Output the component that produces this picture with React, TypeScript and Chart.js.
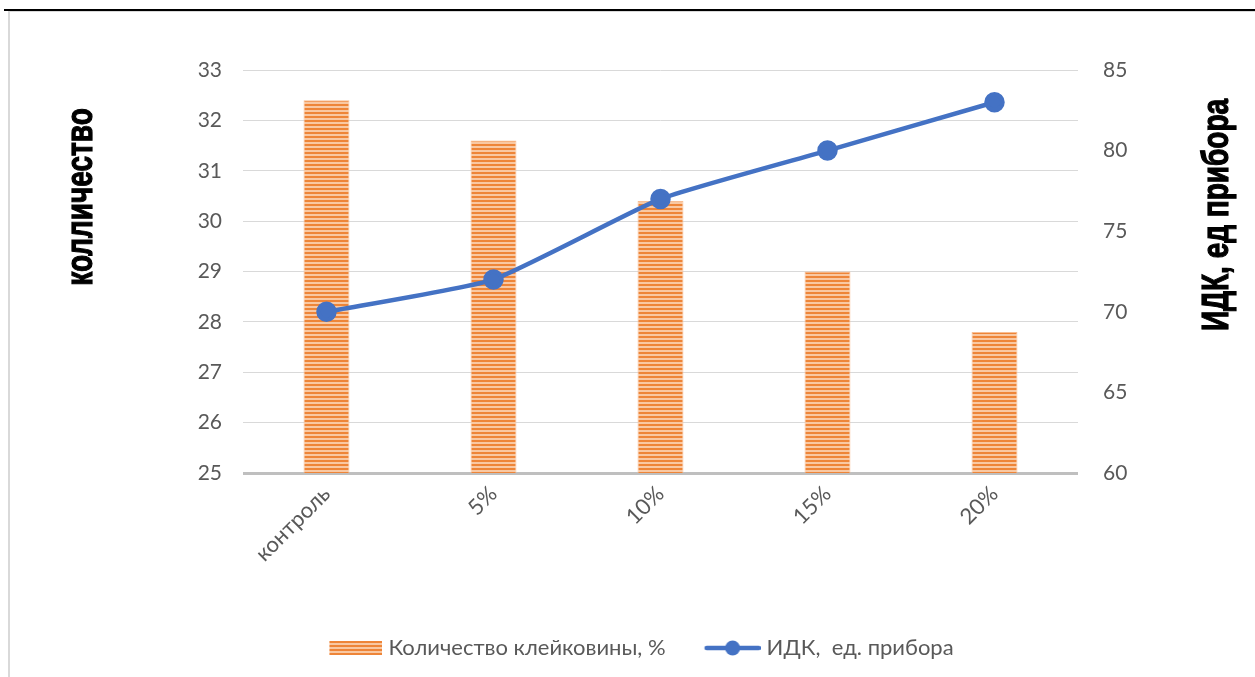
import React, { useEffect, useRef } from "react";
import { Chart, registerables } from "chart.js";

Chart.register(...registerables);

const categories = ["контроль", "5%", "10%", "15%", "20%"];
const glutenValues = [32.4, 31.6, 30.4, 29.0, 27.8];
const idkValues = [70, 72, 77, 80, 83];
const seriesLabels = ["Количество клейковины, %", "ИДК,  ед. прибора"];
const leftTitle = "колличество";
const rightTitle = "ИДК, ед прибора";
const leftRange = [25, 33, 1];
const rightRange = [60, 85, 5];

const FONT = "Lato, 'Open Sans', sans-serif";
const TICK_COLOR = "#595959";

function makeStripeCanvas(w: number, h: number, x0 = 0, ww = w) {
  const c = document.createElement("canvas");
  c.width = w;
  c.height = h;
  const g = c.getContext("2d")!;
  g.fillStyle = "#F9C8A2";
  g.fillRect(x0, 0, ww, h);
  g.fillStyle = "#EE8538";
  for (let y = 0; y < h; y += 4) g.fillRect(x0, y, ww, 2);
  return c;
}

export default function App() {
  const ref = useRef<HTMLCanvasElement | null>(null);

  useEffect(() => {
    const canvas = ref.current!;
    const patCanvas = makeStripeCanvas(4, 4);
    const pattern = canvas.getContext("2d")!.createPattern(patCanvas, "repeat")!;

    const barSwatch = makeStripeCanvas(60, 14, 7, 53);
    const lineSwatch = document.createElement("canvas");
    lineSwatch.width = 60;
    lineSwatch.height = 18;
    {
      const g = lineSwatch.getContext("2d")!;
      g.strokeStyle = "#4472C4";
      g.lineWidth = 4.5;
      g.lineCap = "round";
      g.beginPath();
      g.moveTo(6, 9);
      g.lineTo(58, 9);
      g.stroke();
      g.fillStyle = "#4472C4";
      g.beginPath();
      g.arc(32, 9, 7.5, 0, Math.PI * 2);
      g.fill();
    }

    const axisTitles = {
      id: "axisTitles",
      afterDraw(chart: any) {
        const ctx = chart.ctx;
        ctx.save();
        ctx.fillStyle = "#000";
        ctx.strokeStyle = "#000";
        ctx.lineWidth = 0.9;
        ctx.font = "bold 28px 'Liberation Sans', Arial, sans-serif";
        ctx.textAlign = "center";
        ctx.textBaseline = "middle";
        const draw = (t: string, x: number, y: number) => {
          ctx.save();
          ctx.translate(x, y);
          ctx.rotate(-Math.PI / 2);
          ctx.scale(1, 1.35);
          ctx.fillText(t, 0, 0);
          ctx.strokeText(t, 0, 0);
          ctx.restore();
        };
        draw(leftTitle, 82, 197);
        draw(rightTitle, 1218, 215);
        ctx.restore();
      },
    };

    const chart = new Chart(canvas, {
      type: "bar",
      data: {
        labels: categories,
        datasets: [
          {
            type: "bar",
            label: seriesLabels[0],
            data: glutenValues,
            backgroundColor: pattern as any,
            borderColor: "#F7BE94",
            borderWidth: 1,
            barPercentage: 0.275,
            categoryPercentage: 1,
            yAxisID: "y",
            order: 2,
          },
          {
            type: "line",
            label: seriesLabels[1],
            data: idkValues,
            borderColor: "#4472C4",
            backgroundColor: "#4472C4",
            borderWidth: 4.5,
            pointRadius: 8,
            pointBackgroundColor: "#4472C4",
            pointBorderColor: "#4472C4",
            tension: 0.15,
            yAxisID: "y1",
            order: 1,
          } as any,
        ],
      },
      options: {
        responsive: false,
        animation: false,
        layout: { padding: { top: 70, left: 26, right: 0, bottom: 8 } },
        plugins: {
          tooltip: { enabled: false },
          legend: {
            position: "bottom",
            labels: {
              usePointStyle: true,
              pointStyleWidth: 50,
              padding: 40,
              color: TICK_COLOR,
              font: { family: FONT, size: 22 },
              generateLabels: (ch: any) =>
                ch.data.datasets.map((ds: any, i: number) => ({
                  text: ds.label,
                  pointStyle: i === 0 ? barSwatch : lineSwatch,
                  fillStyle: "transparent",
                  strokeStyle: "transparent",
                  lineWidth: 0,
                  hidden: false,
                  datasetIndex: i,
                  fontColor: TICK_COLOR,
                })),
            },
          },
        },
        scales: {
          x: {
            grid: { display: false },
            border: { display: false },
            ticks: {
              color: TICK_COLOR,
              font: { family: FONT, size: 22 },
              maxRotation: 45,
              minRotation: 45,
              padding: 0,
            },
            afterFit: (s: any) => {
              s.height = 124;
            },
          },
          y: {
            position: "left",
            min: leftRange[0],
            max: leftRange[1],
            border: { display: false },
            grid: {
              drawTicks: false,
              color: (c: any) => (c.tick && c.tick.value === leftRange[0] ? "#BFBFBF" : "#D9D9D9"),
              lineWidth: (c: any) => (c.tick && c.tick.value === leftRange[0] ? 3 : 1),
            },
            ticks: {
              stepSize: leftRange[2],
              color: TICK_COLOR,
              font: { family: FONT, size: 21 },
              padding: 21,
            },
            afterFit: (s: any) => {
              s.width = 217;
            },
          },
          y1: {
            position: "right",
            min: rightRange[0],
            max: rightRange[1],
            border: { display: false },
            grid: { display: false, drawTicks: false },
            ticks: {
              stepSize: rightRange[2],
              color: TICK_COLOR,
              font: { family: FONT, size: 21 },
              padding: 25,
            },
            afterFit: (s: any) => {
              s.width = 177;
            },
          },
        },
      },
      plugins: [axisTitles],
    });
    return () => chart.destroy();
  }, []);

  return (
    <div style={{ position: "absolute", left: 0, top: 0, width: 1255, height: 677, background: "#fff" }}>
      <canvas ref={ref} width={1255} height={677} style={{ display: "block", position: "absolute", left: 0, top: 0 }} />
      <div style={{ position: "absolute", left: 4, top: 9, width: 1251, height: 2, background: "#000" }} />
      <div style={{ position: "absolute", left: 8, top: 11, width: 1247, height: 1, background: "#D9D9D9" }} />
      <div style={{ position: "absolute", left: 8, top: 11, width: 2, height: 666, background: "#D9D9D9" }} />
    </div>
  );
}
